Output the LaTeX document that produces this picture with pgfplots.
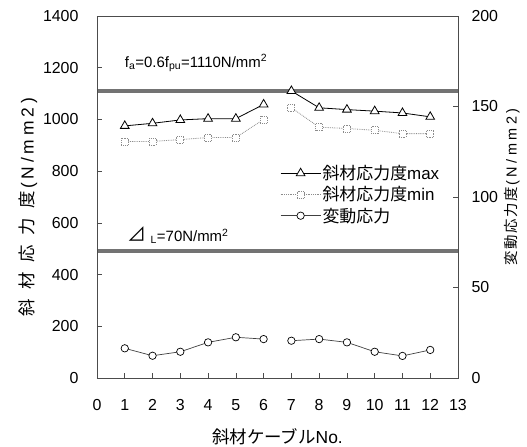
\documentclass[border=0pt]{standalone}
\usepackage{pgfplots}
\pgfplotsset{compat=1.18}
\usepackage{fontspec}
\setmainfont{Liberation Sans}
\newfontfamily\cjk{Noto Sans CJK JP}
\newfontfamily\cjkLS[LetterSpace=55]{Noto Sans CJK JP}
\newfontfamily\latLS[LetterSpace=22]{Liberation Sans}
\newfontfamily\cjkRS[LetterSpace=10]{Noto Sans CJK JP}
\newfontfamily\latRS[LetterSpace=24]{Liberation Sans}
\begin{document}
\begin{tikzpicture}
\useasboundingbox (-97bp,-69bp) rectangle (430bp,378bp);
\begin{axis}[
  scale only axis, width=361bp, height=362bp,
  xmin=0, xmax=13, ymin=0, ymax=1400,
  xtick={0,1,...,13}, ytick={0,200,...,1400},
  tick pos=left, tick align=inside,
  major tick length=5bp,
  axis line style={black!70, line width=0.6bp},
  tick style={black!70, line width=0.6bp},
  /pgf/number format/assume math mode=true,
  /pgf/number format/1000 sep={},
  ticklabel style={font=\fontsize{16}{19}\selectfont},
  xticklabel style={anchor=base, yshift=-32.5bp},
  yticklabel style={anchor=east, xshift=-15bp},
  every axis x label/.style={at={(axis description cs:0.5,0)}, anchor=center, yshift=-59bp},
  every axis y label/.style={at={(axis description cs:0,0.472)}, anchor=center, xshift=-69bp, rotate=90},
  xlabel={\fontsize{17.5}{20}\selectfont{\cjk 斜材ケーブル}No.},
  ylabel={\fontsize{17.5}{20}\selectfont{\cjkLS 斜材応力度}\hspace{2bp}{\latLS (N/mm2)}},
  unbounded coords=jump,
  clip=false,
]
\addplot[black!55, line width=4bp] coordinates {(0,1110) (13,1110)};
\addplot[black!55, line width=4bp] coordinates {(0,490) (13,490)};
\addplot[black, line width=0.8bp, mark=triangle*, mark size=5bp,
  mark options={fill=white, draw=black, line width=0.8bp, solid}]
  coordinates {(1,975) (2,985) (3,998) (4,1003) (5,1003) (6,1058) (6.5,nan) (7,1110) (8,1045) (9,1038) (10,1032) (11,1025) (12,1010)};
\addplot[black!45, line width=0.8bp, densely dotted, mark=square*, mark size=3.5bp,
  mark options={fill=white, draw=black!45, line width=0.8bp, densely dotted}]
  coordinates {(1,915) (2,915) (3,922) (4,930) (5,930) (6,1000) (6.5,nan) (7,1045) (8,970) (9,965) (10,958) (11,945) (12,945)};
\node[anchor=west, inner sep=0pt, font=\fontsize{15}{18}\selectfont] at (axis cs:1.0,1218)
  {f\textsubscript{a}=0.6f\textsubscript{pu}=1110N/mm\textsuperscript{2}};
\node[anchor=west, inner sep=0pt, font=\fontsize{15}{18}\selectfont] at (axis cs:1.1,553)
  {{\fontsize{19}{20}\selectfont\cjk ⊿}\hspace{4bp}\textsubscript{L}=70N/mm\textsuperscript{2}};
\end{axis}
\begin{axis}[
  scale only axis, width=361bp, height=362bp,
  xmin=0, xmax=13, ymin=0, ymax=200,
  xtick=\empty, ytick={0,50,...,200},
  ytick pos=right, yticklabel pos=right, tick align=inside,
  major tick length=5bp,
  axis line style={black!70, line width=0.6bp},
  tick style={black!70, line width=0.6bp},
  /pgf/number format/assume math mode=true,
  ticklabel style={font=\fontsize{16}{19}\selectfont},
  yticklabel style={anchor=west, xshift=10bp},
  every axis y label/.style={at={(axis description cs:1,0.528)}, anchor=center, xshift=54bp, rotate=90},
  ylabel={\fontsize{14.5}{17}\selectfont{\cjkRS 変動応力度}\hspace{2bp}{\latRS (N/mm2)}},
  unbounded coords=jump,
  legend style={at={(axis description cs:0.507,0.592)}, anchor=north west,
    draw=none, fill=none, inner sep=0pt, row sep=2.5bp,
    font=\fontsize{17}{20}\selectfont,
    nodes={inner sep=1.5bp}},
  legend cell align=left,
  legend image code/.code={\draw[mark repeat=2,mark phase=2,#1] plot coordinates {(0bp,0bp) (20bp,0bp) (40bp,0bp)};},
]
\addlegendimage{black, line width=0.8bp, mark=triangle*, mark size=5bp,
  mark options={fill=white, draw=black, line width=0.8bp, solid}}
\addlegendentry{{\cjk 斜材応力度}max}
\addlegendimage{black!45, line width=0.8bp, densely dotted, mark=square*, mark size=3.5bp,
  mark options={fill=white, draw=black!45, line width=0.8bp, densely dotted}}
\addlegendentry{{\cjk 斜材応力度}min}
\addplot[black!75, line width=0.7bp, mark=*, mark size=3.7bp,
  mark options={fill=white, draw=black, line width=0.7bp, solid}]
  coordinates {(1,16.4) (2,12.3) (3,14.5) (4,19.7) (5,22.5) (6,21.5) (6.5,nan) (7,20.6) (8,21.5) (9,19.7) (10,14.5) (11,12.2) (12,15.5)};
\addlegendentry{{\cjk 変動応力}}
\end{axis}
\end{tikzpicture}
\end{document}
